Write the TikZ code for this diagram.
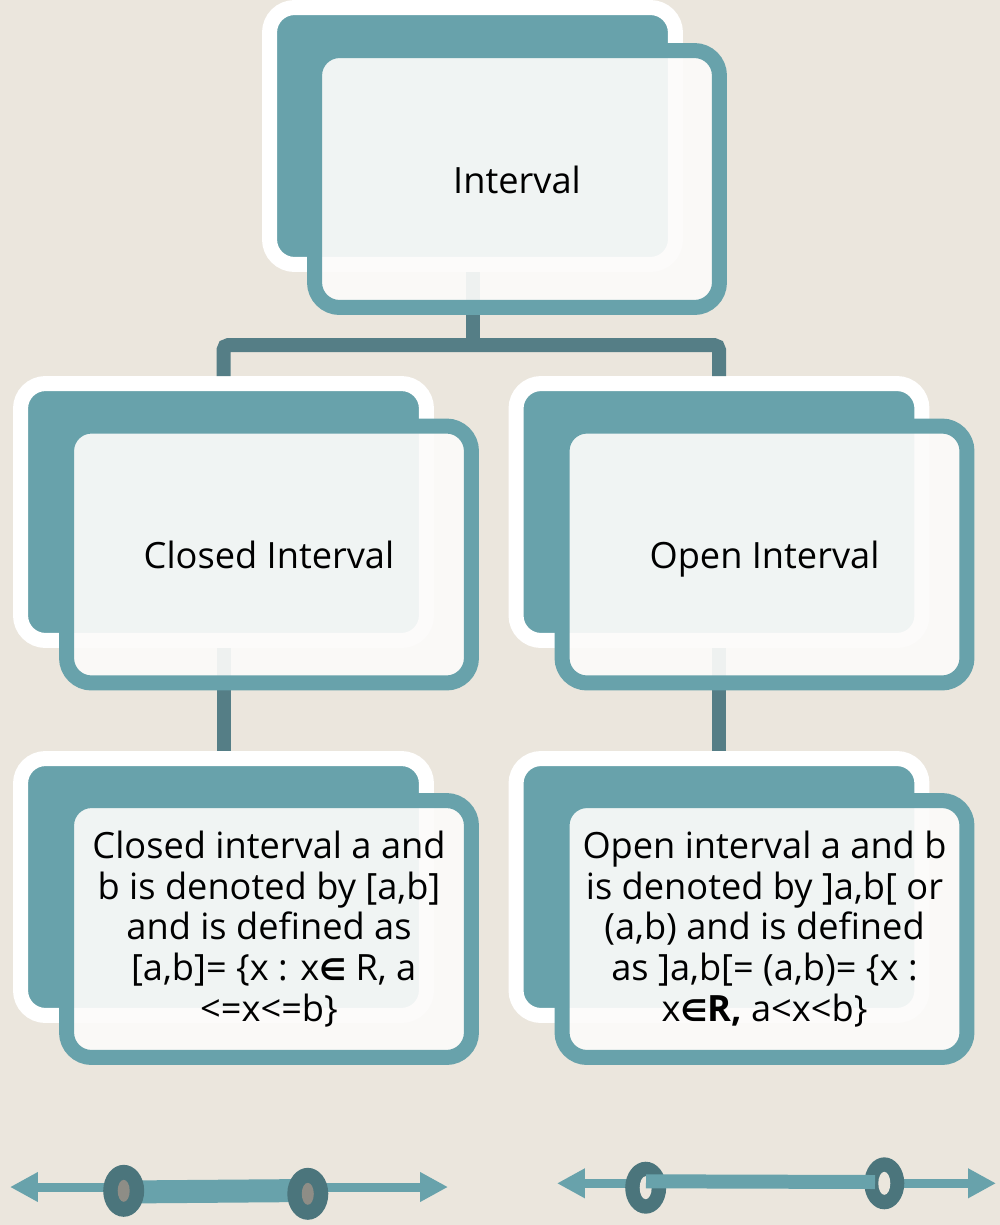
\documentclass[tikz,border=0pt]{standalone}
\usepackage{fontspec}
\setmainfont{Open Sans}
\newfontfamily\symbfont{DejaVu Sans}
\usetikzlibrary{arrows.meta,calc,positioning}

\definecolor{paper}{HTML}{EBE6DD}
\definecolor{boxteal}{HTML}{68A2AB}
\definecolor{frontfill}{HTML}{FCFBFA}
\definecolor{linkdark}{HTML}{557E86}
\definecolor{dotdark}{HTML}{4B757C}
\definecolor{dotgray}{HTML}{8E8D86}

\newcommand{\elem}{{\symbfont\bfseries\fontsize{17}{23.2}\selectfont ∈}}

\tikzset{
  backbox/.style={
    shape = rectangle,
    draw = white,
    fill = boxteal,
    line width = 0.3cm,
    rounded corners = 0.5cm,
    minimum width = 8.12cm,
    minimum height = 5.14cm,
    inner sep = 0pt
  },
}
\tikzset{
  frontbox/.style={
    shape = rectangle,
    draw = boxteal,
    fill = frontfill,
    fill opacity = 0.92,
    text opacity = 1,
    line width = 0.3cm,
    rounded corners = 0.5cm,
    minimum width = 8.1cm,
    minimum height = 5.14cm,
    inner sep = 0pt,
    align = center,
    font = \fontsize{20.6}{23.2}\selectfont
  },
  title/.style={
    text height = 18pt,
    text depth = 2pt
  },
  link/.style={
    draw = linkdark,
    line width = 0.28cm,
    rounded corners = 0.1cm
  },
  numline/.style={
    draw = boxteal,
    line width = 0.18cm,
    {Triangle[length=0.56cm,width=0.56cm]}-{Triangle[length=0.56cm,width=0.56cm]}
  },
}

\begin{document}
\begin{tikzpicture}[x=0.02cm, y=-0.02cm]
    \fill[paper] (0,0) rectangle (1000,1225);
    \useasboundingbox (0,0) rectangle (1000,1225);

    % back plates
    \node[backbox] (iback) at (472.5,136) {};
    \node[backbox] (cback) at (223.5,512) {};
    \node[backbox] (oback) at (719,512) {};
    \node[backbox] (cdback) at (223.5,887) {};
    \node[backbox] (odback) at (719,887) {};

    % tree lines
    \coordinate (fork) at (472.5,345);
    \draw[link] (iback.south) -- (fork);
    \draw[link] (cback.north) |- (fork) -| (oback.north);
    \draw[link] (cback.south) -- (cdback.north);
    \draw[link] (oback.south) -- (odback.north);

    % front cards
    \node[frontbox, title] (interval) at (517,179) {Interval};
    \node[frontbox, title] (closed) at (269,554.5) {Closed Interval};
    \node[frontbox, title] (open) at (764.5,554.5) {Open Interval};
    \node[frontbox] (closeddef) at (269,929) {Closed interval a and\\
        b is denoted by [a,b]\\
        and is defined as\\{}
        [a,b]= \{x : x\elem{} R, a\\
        <=x<=b\}};
    \node[frontbox] (opendef) at (764.5,929) {Open interval a and b\\
        is denoted by ]a,b[ or\\
        (a,b) and is defined\\
        as ]a,b[= (a,b)= \{x :\\
        x\elem{\bfseries R,} a<x<b\}};

    % closed interval on the line
    \coordinate (cl) at (10,1187);
    \coordinate (cr) at (448,1187);
    \draw[numline] (cl) -- (cr);
    \draw[boxteal, line width=0.46cm] (124,1192) -- (308,1190.5);
    \fill[dotdark] (123.7,1190.8) ellipse [x radius=0.41cm, y radius=0.52cm];
    \fill[dotgray] (123.7,1190.8) ellipse [x radius=0.12cm, y radius=0.22cm];
    \fill[dotdark] (307.8,1193.8) ellipse [x radius=0.41cm, y radius=0.52cm];
    \fill[dotgray] (307.8,1193.8) ellipse [x radius=0.12cm, y radius=0.22cm];

    % open interval on the line
    \coordinate (ol) at (557,1183.3);
    \coordinate (or) at (996,1183.3);
    \draw[numline] (ol) -- (or);
    \fill[dotdark] (645.7,1187.7) ellipse [x radius=0.41cm, y radius=0.52cm];
    \fill[paper] (645.7,1187.7) ellipse [x radius=0.12cm, y radius=0.23cm];
    \fill[dotdark] (884.3,1183.3) ellipse [x radius=0.4cm, y radius=0.52cm];
    \fill[paper] (884.3,1183.3) ellipse [x radius=0.12cm, y radius=0.23cm];
    \draw[boxteal, line width=0.28cm] (646,1181.3) -- (875,1182);
\end{tikzpicture}
\end{document}
